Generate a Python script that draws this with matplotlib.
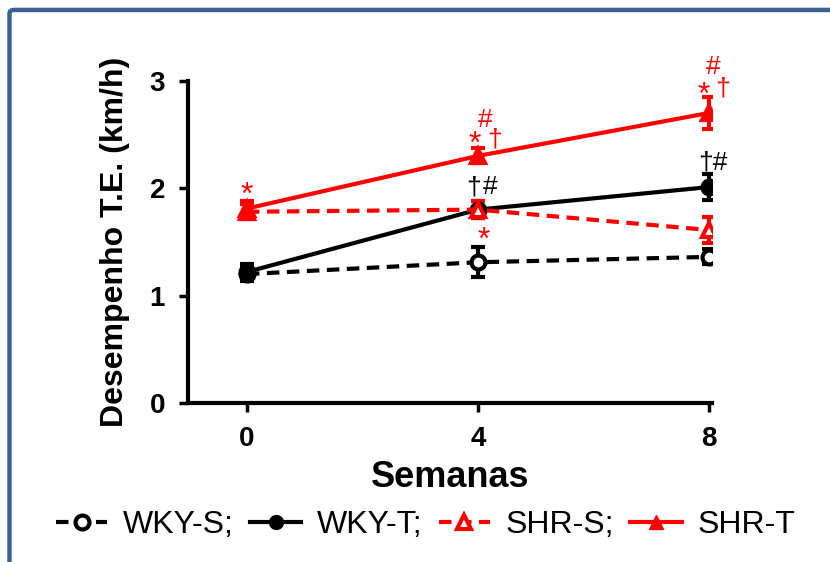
import numpy as np
import matplotlib
matplotlib.use("Agg")
import matplotlib.pyplot as plt
from matplotlib.patches import FancyBboxPatch
from matplotlib.lines import Line2D

plt.rcParams['font.family'] = ['Liberation Sans', 'DejaVu Sans']

# data
weeks = [0, 4, 8]
wky_s = [1.20, 1.31, 1.36]
wky_s_err = [0.06, 0.14, 0.07]
wky_t = [1.22, 1.80, 2.01]
wky_t_err = [0.07, 0.08, 0.12]
shr_s = [1.78, 1.80, 1.61]
shr_s_err = [0.07, 0.08, 0.12]
shr_t = [1.81, 2.30, 2.70]
shr_t_err = [0.07, 0.07, 0.15]

labels = ["WKY-S;", "WKY-T;", "SHR-S;", "SHR-T"]
y_ticks = [0, 1, 2, 3]

# significance marks: (text, x, y, colour)
marks = [
    ("*", 0.0, 1.93, "red"),
    ("*", 3.95, 2.40, "red"),
    ("†", 4.28, 2.45, "red"),
    ("#", 4.12, 2.63, "red"),
    ("†", 3.93, 2.01, "black"),
    ("#", 4.21, 2.01, "black"),
    ("*", 4.09, 1.51, "red"),
    ("*", 7.90, 2.86, "red"),
    ("†", 8.23, 2.93, "red"),
    ("#", 8.07, 3.13, "red"),
    ("†#", 8.07, 2.24, "black"),
]

RED = "#FF0000"

fig = plt.figure(figsize=(8.3, 5.62), dpi=100)

# blue frame around the picture
frame = FancyBboxPatch((9.5 / 830, -0.2), 1.2, 1.2 - 10.5 / 562 + 0.001,
                       boxstyle="round,pad=0,rounding_size=0.006",
                       transform=fig.transFigure, facecolor="none",
                       edgecolor="#3B6195", linewidth=3.2, clip_on=False)
fig.patches.append(frame)

ax = fig.add_axes([188 / 830, 1 - 403 / 562, (712 - 188) / 830, (403 - 80.7) / 562])

dash = (3.0, 1.8)
lw = 3.0
common = dict(capsize=5, capthick=4, elinewidth=3, markersize=10, markeredgewidth=3)

ax.errorbar(weeks, wky_s, yerr=wky_s_err, color="black", linewidth=lw, dashes=dash,
            marker="o", markerfacecolor="white", markeredgecolor="black",
            ecolor="black", label=labels[0], **common)
ax.errorbar(weeks, wky_t, yerr=wky_t_err, color="black", linewidth=lw,
            marker="o", markerfacecolor="black", markeredgecolor="black",
            ecolor="black", label=labels[1], **common)
ax.errorbar(weeks, shr_s, yerr=shr_s_err, color=RED, linewidth=lw, dashes=dash,
            marker="^", markerfacecolor="white", markeredgecolor=RED,
            ecolor=RED, label=labels[2], **common)
ax.errorbar(weeks, shr_t, yerr=shr_t_err, color=RED, linewidth=lw,
            marker="^", markerfacecolor=RED, markeredgecolor=RED,
            ecolor=RED, label=labels[3], **common)

for txt, x, y, c in marks:
    size = 23 if txt == "*" else 19
    ax.text(x, y, txt, color=c, fontsize=size, ha="center", va="center")

ax.set_xlim(-1.02, 8.05)
ax.set_ylim(0, 3)
ax.set_xticks(weeks)
ax.set_yticks(y_ticks)
for s in ["top", "right"]:
    ax.spines[s].set_visible(False)
for s in ["left", "bottom"]:
    ax.spines[s].set_linewidth(3)
ax.tick_params(axis="both", length=6.5, width=2.5, labelsize=20, pad=10)
for t in ax.get_xticklabels() + ax.get_yticklabels():
    t.set_fontweight("bold")

ax.set_xlabel("Semanas", fontsize=26, fontweight="bold", labelpad=6)
ax.set_ylabel("Desempenho T.E. (km/h)", fontsize=23, fontweight="bold", labelpad=14)

# legend built from the same styles
handles = [
    Line2D([], [], color="black", lw=lw, dashes=dash, marker="o", markersize=10,
           markeredgewidth=3, markerfacecolor="white", markeredgecolor="black"),
    Line2D([], [], color="black", lw=lw, marker="o", markersize=10,
           markerfacecolor="black", markeredgecolor="black"),
    Line2D([], [], color=RED, lw=lw, dashes=dash, marker="^", markersize=10,
           markeredgewidth=3, markerfacecolor="white", markeredgecolor=RED),
    Line2D([], [], color=RED, lw=lw, marker="^", markersize=10,
           markerfacecolor=RED, markeredgecolor=RED),
]
fig.legend(handles, labels, loc="center", bbox_to_anchor=(0.513, 1 - 525 / 562),
           ncol=4, frameon=False, fontsize=23, handlelength=1.6,
           handletextpad=0.5, columnspacing=0.5, borderaxespad=0)

fig.savefig("out.png", dpi=100)
